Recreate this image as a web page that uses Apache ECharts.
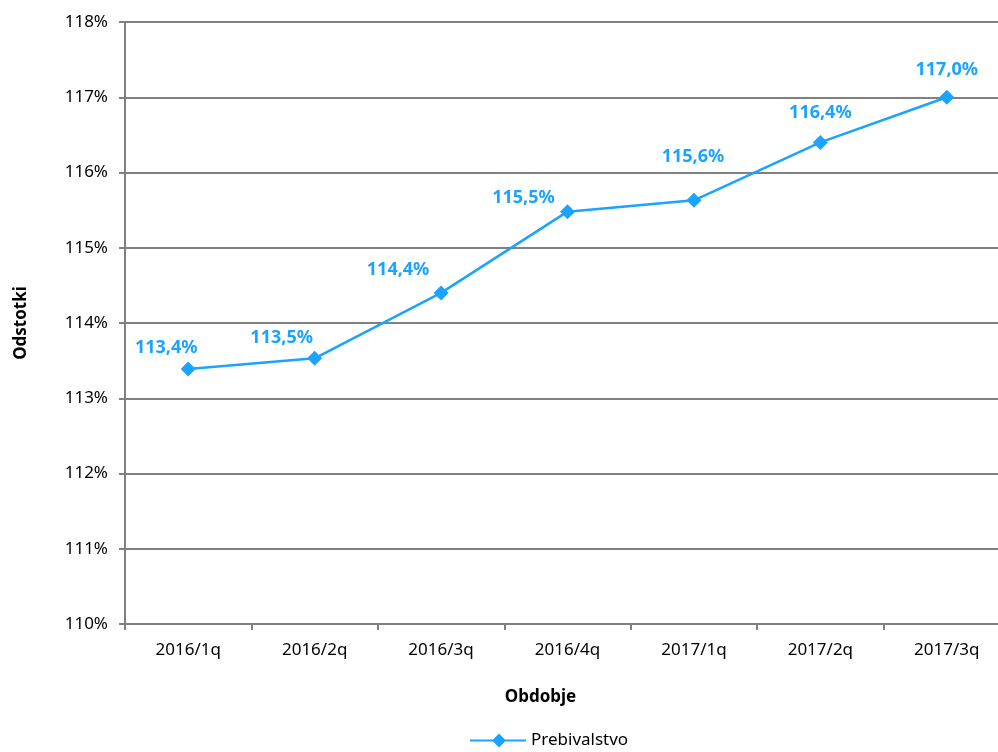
<!DOCTYPE html>
<html>
<head>
<meta charset="utf-8">
<script src="https://cdn.jsdelivr.net/npm/echarts@6/dist/echarts.min.js"></script>
<style>html,body{margin:0;padding:0;background:#fff;}#c{width:998px;height:752px;}</style>
</head>
<body>
<div id="c"></div>
<script>
const categories = ['2016/1q','2016/2q','2016/3q','2016/4q','2017/1q','2017/2q','2017/3q'];
const prebivalstvo = [113.39, 113.53, 114.40, 115.48, 115.63, 116.40, 117.00];
const seriesName = 'Prebivalstvo';
const yTicks = [110, 111, 112, 113, 114, 115, 116, 117, 118];

const labelOffsets = [[-22,-21],[-33,-20],[-43,-23],[-44,-14],[-1,-43],[0,-30],[0,-27]];
const color = '#1aa3ff';
const font = 'Noto Sans';

const chart = echarts.init(document.getElementById('c'));
chart.setOption({
  animation: false,
  textStyle: {fontFamily: font},
  grid: {left: 125, right: -12, top: 22, bottom: 128, containLabel: false, outerBoundsMode: 'none'},
  legend: {
    bottom: -2, left: 465,
    itemWidth: 56, itemHeight: 14, itemGap: 6,
    textStyle: {fontSize: 17, color: '#000', fontFamily: font},
    data: [{name: seriesName, icon: 'path://M0,6H23L29,0L35,6H56V8H35L29,14L23,8H0Z'}]
  },
  xAxis: {
    type: 'category', data: categories, boundaryGap: true,
    name: 'Obdobje', nameLocation: 'middle', nameGap: 65,
    nameTextStyle: {fontWeight: 'bold', fontSize: 17, color: '#000', padding:[0,54,0,0]},
    axisLine: {lineStyle: {color: '#808080', width: 2}},
    axisTick: {show: true, alignWithLabel: false, length: 6, lineStyle: {color: '#808080', width: 2}},
    axisLabel: {color: '#000', fontSize: 17, margin: 18}
  },
  yAxis: {
    type: 'value', min: yTicks[0], max: yTicks[yTicks.length-1], interval: 1,
    name: 'Odstotki', nameLocation: 'middle', nameGap: 95, nameRotate: 90,
    nameTextStyle: {fontWeight: 'bold', fontSize: 17, color: '#000'},
    axisLine: {show: true, lineStyle: {color: '#808080', width: 2}},
    axisTick: {show: true, length: 6, lineStyle: {color: '#808080', width: 2}},
    axisLabel: {color: '#000', fontSize: 17, margin: 17, formatter: v => v + '%'},
    splitLine: {lineStyle: {color: '#808080', width: 2}}
  },
  series: [{
    name: seriesName, type: 'line',
    data: prebivalstvo.map((v, i) => ({value: v, label: {offset: labelOffsets[i]}})),
    symbol: 'diamond', symbolSize: 15,
    itemStyle: {color: color},
    lineStyle: {color: color, width: 2.5},
    label: {
      show: true, position: 'inside', color: color, fontWeight: 'bold', fontSize: 18,
      formatter: p => p.value.toFixed(1).replace('.', ',') + '%'
    }
  }]
});
</script>
</body>
</html>
